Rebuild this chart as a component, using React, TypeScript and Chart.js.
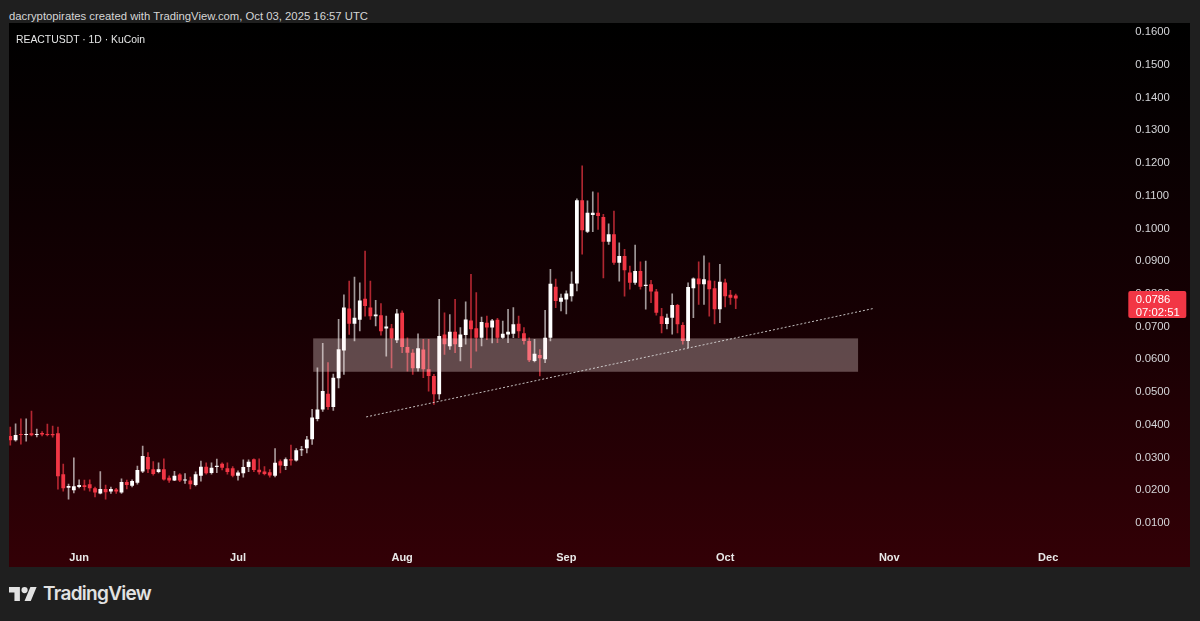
import React, { useEffect, useRef } from 'react';
import { Chart, registerables } from 'chart.js';
Chart.register(...registerables);

// Daily candles, index 0 = May 19 2025 ... index 137 = Oct 03 2025
const OPEN = [
  0.0366, 0.0353, 0.0371, 0.0369, 0.0374, 0.0369, 0.0375, 0.0372, 0.0372, 0.0374,
  0.0249, 0.0208, 0.0200, 0.0210, 0.0215, 0.0218, 0.0206, 0.0190, 0.0204, 0.0196,
  0.0202, 0.0193, 0.0225, 0.0214, 0.0223, 0.0257, 0.0302, 0.0264, 0.0256, 0.0264,
  0.0238, 0.0230, 0.0248, 0.0230, 0.0230, 0.0216, 0.0244, 0.0272, 0.0253, 0.0271,
  0.0281, 0.0267, 0.0267, 0.0244, 0.0252, 0.0271, 0.0295, 0.0263, 0.0257, 0.0255,
  0.0244, 0.0289, 0.0274, 0.0295, 0.0291, 0.0322, 0.0328, 0.0356, 0.0418, 0.0447,
  0.0495, 0.0454, 0.0542, 0.0627, 0.0755, 0.0709, 0.0721, 0.0785, 0.0758, 0.0732,
  0.0735, 0.0694, 0.0695, 0.0658, 0.0742, 0.0638, 0.0620, 0.0573, 0.0630, 0.0570,
  0.0549, 0.0493, 0.0676, 0.0640, 0.0684, 0.0638, 0.0674, 0.0719, 0.0695, 0.0666,
  0.0712, 0.0697, 0.0721, 0.0666, 0.0676, 0.0678, 0.0709, 0.0680, 0.0656, 0.0595,
  0.0613, 0.0600, 0.0666, 0.0822, 0.0776, 0.0783, 0.0793, 0.0832, 0.1086, 0.0990,
  0.1041, 0.1048, 0.1035, 0.0959, 0.0982, 0.0895, 0.0916, 0.0865, 0.0834, 0.0870,
  0.0824, 0.0829, 0.0807, 0.0732, 0.0708, 0.0727, 0.0766, 0.0705, 0.0656, 0.0817,
  0.0847, 0.0829, 0.0841, 0.0817, 0.0753, 0.0835, 0.0797, 0.0795,
];
const HIGH = [
  0.0393, 0.0403, 0.0418, 0.0418, 0.0442, 0.0387, 0.0379, 0.0402, 0.0396, 0.0393,
  0.0280, 0.0219, 0.0299, 0.0232, 0.0231, 0.0232, 0.0210, 0.0257, 0.0216, 0.0210,
  0.0206, 0.0235, 0.0231, 0.0232, 0.0274, 0.0335, 0.0315, 0.0288, 0.0284, 0.0296,
  0.0244, 0.0258, 0.0251, 0.0251, 0.0240, 0.0256, 0.0289, 0.0284, 0.0284, 0.0295,
  0.0284, 0.0284, 0.0272, 0.0259, 0.0293, 0.0293, 0.0296, 0.0296, 0.0272, 0.0263,
  0.0327, 0.0293, 0.0299, 0.0338, 0.0327, 0.0334, 0.0365, 0.0447, 0.0574, 0.0649,
  0.0590, 0.0555, 0.0722, 0.0797, 0.0839, 0.0851, 0.0834, 0.0931, 0.0839, 0.0780,
  0.0770, 0.0732, 0.0707, 0.0753, 0.0748, 0.0666, 0.0630, 0.0678, 0.0661, 0.0661,
  0.0554, 0.0783, 0.0742, 0.0737, 0.0783, 0.0697, 0.0776, 0.0860, 0.0804, 0.0729,
  0.0732, 0.0722, 0.0725, 0.0717, 0.0753, 0.0758, 0.0732, 0.0697, 0.0666, 0.0661,
  0.0630, 0.0750, 0.0875, 0.0845, 0.0799, 0.0809, 0.0867, 0.1090, 0.1191, 0.1084,
  0.1112, 0.1109, 0.1043, 0.1014, 0.1053, 0.0956, 0.0936, 0.0885, 0.0949, 0.0898,
  0.0900, 0.0841, 0.0814, 0.0756, 0.0738, 0.0800, 0.0768, 0.0712, 0.0834, 0.0849,
  0.0898, 0.0916, 0.0895, 0.0839, 0.0890, 0.0845, 0.0811, 0.0799,
];
const LOW = [
  0.0338, 0.0350, 0.0341, 0.0350, 0.0366, 0.0363, 0.0366, 0.0366, 0.0362, 0.0203,
  0.0197, 0.0173, 0.0192, 0.0207, 0.0200, 0.0197, 0.0180, 0.0189, 0.0173, 0.0190,
  0.0190, 0.0190, 0.0204, 0.0210, 0.0219, 0.0254, 0.0254, 0.0246, 0.0253, 0.0231,
  0.0224, 0.0229, 0.0226, 0.0221, 0.0204, 0.0213, 0.0228, 0.0249, 0.0249, 0.0254,
  0.0262, 0.0249, 0.0241, 0.0231, 0.0240, 0.0257, 0.0257, 0.0249, 0.0247, 0.0240,
  0.0241, 0.0253, 0.0263, 0.0277, 0.0289, 0.0306, 0.0314, 0.0340, 0.0412, 0.0441,
  0.0447, 0.0444, 0.0513, 0.0554, 0.0676, 0.0656, 0.0687, 0.0732, 0.0722, 0.0702,
  0.0674, 0.0610, 0.0574, 0.0651, 0.0620, 0.0564, 0.0554, 0.0564, 0.0544, 0.0503,
  0.0462, 0.0478, 0.0615, 0.0630, 0.0620, 0.0595, 0.0646, 0.0574, 0.0625, 0.0641,
  0.0660, 0.0650, 0.0651, 0.0664, 0.0651, 0.0666, 0.0666, 0.0646, 0.0593, 0.0592,
  0.0549, 0.0590, 0.0656, 0.0758, 0.0748, 0.0739, 0.0778, 0.0809, 0.0921, 0.0987,
  0.0990, 0.0997, 0.0849, 0.0951, 0.0890, 0.0839, 0.0793, 0.0814, 0.0829, 0.0814,
  0.0753, 0.0773, 0.0735, 0.0681, 0.0693, 0.0677, 0.0681, 0.0646, 0.0636, 0.0727,
  0.0768, 0.0768, 0.0732, 0.0708, 0.0712, 0.0760, 0.0768, 0.0755,
];
const CLOSE = [
  0.0353, 0.0369, 0.0369, 0.0371, 0.0368, 0.0372, 0.0370, 0.0369, 0.0368, 0.0243,
  0.0206, 0.0213, 0.0212, 0.0216, 0.0210, 0.0206, 0.0193, 0.0204, 0.0194, 0.0204,
  0.0196, 0.0225, 0.0216, 0.0228, 0.0262, 0.0305, 0.0264, 0.0250, 0.0264, 0.0233,
  0.0230, 0.0244, 0.0230, 0.0232, 0.0218, 0.0249, 0.0272, 0.0252, 0.0269, 0.0275,
  0.0269, 0.0256, 0.0244, 0.0254, 0.0271, 0.0287, 0.0262, 0.0255, 0.0250, 0.0245,
  0.0284, 0.0276, 0.0295, 0.0291, 0.0322, 0.0325, 0.0355, 0.0422, 0.0447, 0.0503,
  0.0454, 0.0544, 0.0631, 0.0758, 0.0709, 0.0727, 0.0780, 0.0763, 0.0732, 0.0737,
  0.0686, 0.0700, 0.0664, 0.0740, 0.0638, 0.0620, 0.0573, 0.0634, 0.0570, 0.0549,
  0.0493, 0.0671, 0.0646, 0.0684, 0.0646, 0.0676, 0.0722, 0.0692, 0.0666, 0.0714,
  0.0697, 0.0719, 0.0666, 0.0678, 0.0684, 0.0707, 0.0686, 0.0656, 0.0597, 0.0617,
  0.0603, 0.0666, 0.0831, 0.0778, 0.0788, 0.0801, 0.0831, 0.1086, 0.0994, 0.1048,
  0.1048, 0.1038, 0.0959, 0.0982, 0.0895, 0.0916, 0.0872, 0.0834, 0.0870, 0.0822,
  0.0828, 0.0807, 0.0742, 0.0708, 0.0727, 0.0766, 0.0707, 0.0656, 0.0821, 0.0847,
  0.0829, 0.0845, 0.0814, 0.0753, 0.0837, 0.0793, 0.0788, 0.0786,
];

// Time axis: day index of the first of each month
const MONTH_TICKS = [13, 43, 74, 105, 135, 166, 196];
const MONTH_LABELS = ['Jun', 'Jul', 'Aug', 'Sep', 'Oct', 'Nov', 'Dec'];
const PRICE_TICKS = [
  0.01, 0.02, 0.03, 0.04, 0.05, 0.06, 0.07, 0.08,
  0.09, 0.1, 0.11, 0.12, 0.13, 0.14, 0.15, 0.16,
];

// Drawings: support zone and rising trend line (day index / price)
const ZONE_FROM = 57.2;
const ZONE_TO = 160.1;
const ZONE_LOW = 0.0562;
const ZONE_HIGH = 0.0664;
const TREND_X = [67.2, 162.9];
const TREND_Y = [0.0424, 0.0755];

const COUNTDOWN = '07:02:51';
const SYMBOL = 'REACTUSDT · 1D · KuCoin';
const HEADER = 'dacryptopirates created with TradingView.com, Oct 03, 2025 16:57 UTC';

const X_MIN = -0.245;
const X_MAX = 210;
const Y_MIN = 0.00389;
const Y_MAX = 0.16275;

const UP = '#ffffff';
const DOWN = '#f23645';
const UP_WICK = 'rgba(255,255,255,0.6)';
const DOWN_WICK = 'rgba(242,54,69,0.7)';
const FONT = '"Liberation Sans", Arial, sans-serif';

export default function App() {
  const ref = useRef<HTMLCanvasElement | null>(null);

  useEffect(() => {
    if (!ref.current) return;
    const idx = OPEN.map((_, i) => i);
    const isUp = idx.map((i) => CLOSE[i] >= OPEN[i]);

    const zonePlugin = {
      id: 'zone',
      afterDatasetDraw(chart: any, args: any) {
        if (args.index !== 1) return;
        const { ctx, chartArea, scales } = chart;
        const x0 = scales.x.getPixelForValue(ZONE_FROM);
        const x1 = scales.x.getPixelForValue(ZONE_TO);
        const y0 = scales.y.getPixelForValue(ZONE_HIGH);
        const y1 = scales.y.getPixelForValue(ZONE_LOW);
        ctx.save();
        ctx.beginPath();
        ctx.rect(chartArea.left, chartArea.top, chartArea.right - chartArea.left, chartArea.bottom - chartArea.top);
        ctx.clip();
        ctx.fillStyle = 'rgba(255,236,236,0.31)';
        ctx.fillRect(x0, y0, x1 - x0, y1 - y0);
        ctx.restore();
      },
    };

    const pricePlugin = {
      id: 'lastPrice',
      afterDraw(chart: any) {
        const { ctx, chartArea, scales } = chart;
        const last = CLOSE[CLOSE.length - 1];
        const py = scales.y.getPixelForValue(last);
        const bx = chartArea.right + 6;
        const by = py - 7.5;
        ctx.save();
        ctx.fillStyle = DOWN;
        ctx.beginPath();
        (ctx as any).roundRect ? (ctx as any).roundRect(bx, by, 58, 27, 2) : ctx.rect(bx, by, 58, 27);
        ctx.fill();
        ctx.fillStyle = '#ffffff';
        ctx.font = `11.3px ${FONT}`;
        ctx.textBaseline = 'middle';
        ctx.textAlign = 'left';
        ctx.fillText(last.toFixed(4), bx + 7.5, py + 1);
        ctx.fillText(COUNTDOWN, bx + 7.5, py + 14);
        ctx.restore();
      },
    };

    const chart = new Chart(ref.current, {
      type: 'bar',
      data: {
        datasets: [
          {
            type: 'bar',
            data: idx.map((i) => ({ x: i, y: [LOW[i], HIGH[i]] })) as any,
            backgroundColor: idx.map((i) => (isUp[i] ? UP_WICK : DOWN_WICK)),
            barThickness: 1,
            grouped: false,
            order: 3,
          } as any,
          {
            type: 'bar',
            data: idx.map((i) => ({ x: i, y: [OPEN[i], CLOSE[i]] })) as any,
            backgroundColor: idx.map((i) => (isUp[i] ? UP : DOWN)),
            barPercentage: 0.9,
            categoryPercentage: 0.8,
            minBarLength: 1,
            grouped: false,
            order: 2,
          } as any,
          {
            type: 'line',
            data: TREND_X.map((x, i) => ({ x, y: TREND_Y[i] })) as any,
            borderColor: 'rgba(225,225,225,0.85)',
            borderWidth: 1,
            borderDash: [2, 2],
            pointRadius: 0,
            fill: false,
            order: 1,
          } as any,
        ],
      },
      options: {
        animation: false,
        responsive: true,
        maintainAspectRatio: false,
        events: [],
        layout: { padding: 0 },
        plugins: { legend: { display: false }, tooltip: { enabled: false } },
        scales: {
          x: {
            type: 'linear',
            offset: false,
            min: X_MIN,
            max: X_MAX,
            grid: { display: false, drawTicks: false, offset: false },
            border: { display: false },
            afterBuildTicks: (scale: any) => {
              scale.ticks = MONTH_TICKS.map((v) => ({ value: v }));
            },
            afterFit: (scale: any) => {
              scale.height = 24;
              scale.paddingLeft = 0;
              scale.paddingRight = 0;
            },
            ticks: {
              autoSkip: false,
              maxRotation: 0,
              padding: 8,
              color: '#e8e8e8',
              font: { family: FONT, size: 11, weight: 'bold' },
              callback: (v: any) => {
                const k = MONTH_TICKS.indexOf(Number(v));
                return k >= 0 ? MONTH_LABELS[k] : '';
              },
            },
          },
          y: {
            type: 'linear',
            position: 'right',
            min: Y_MIN,
            max: Y_MAX,
            grid: { display: false, drawTicks: false },
            border: { display: false },
            afterBuildTicks: (scale: any) => {
              scale.ticks = PRICE_TICKS.map((v) => ({ value: v }));
            },
            afterFit: (scale: any) => {
              scale.width = 67.7;
              scale.paddingTop = 0;
              scale.paddingBottom = 0;
            },
            ticks: {
              padding: 13,
              color: '#d4d4d8',
              font: { family: FONT, size: 11.3 },
              callback: (v: any) => Number(v).toFixed(4),
            },
          },
        },
      } as any,
      plugins: [zonePlugin, pricePlugin],
    });
    return () => chart.destroy();
  }, []);

  return (
    <div style={{ position: 'fixed', left: 0, top: 0, width: 1200, height: 621, background: '#1f1f1f', overflow: 'hidden', fontFamily: FONT }}>
      <div style={{ position: 'absolute', left: 9, top: 8, fontSize: 11.3, lineHeight: '16px', color: '#d6d6d6', whiteSpace: 'nowrap' }}>
        {HEADER}
      </div>
      <div
        style={{
          position: 'absolute',
          left: 9,
          top: 23,
          width: 1181,
          height: 544,
          background: 'linear-gradient(180deg, #000000 0%, #060001 18%, #170003 55%, #330006 100%)',
        }}
      >
        <canvas ref={ref} />
        <div style={{ position: 'absolute', left: 7, top: 10, fontSize: 10.4, lineHeight: '14px', color: '#e6e6e6', whiteSpace: 'nowrap' }}>
          {SYMBOL}
        </div>
      </div>
      <svg style={{ position: 'absolute', left: 9, top: 587 }} width={28} height={14} viewBox="0 4 36 18">
        <path d="M14 22H7V11H0V4h14v18z" fill="#e2e2e2" />
        <circle cx="20" cy="8" r="4" fill="#e2e2e2" />
        <path d="M28 22h-8l7.5-18h8L28 22z" fill="#e2e2e2" />
      </svg>
      <div style={{ position: 'absolute', left: 43, top: 582, fontSize: 19, lineHeight: '24px', fontWeight: 600, fontFamily: 'Inter, "Noto Sans", sans-serif', color: '#e2e2e2', letterSpacing: -0.7, whiteSpace: 'nowrap' }}>
        TradingView
      </div>
    </div>
  );
}
